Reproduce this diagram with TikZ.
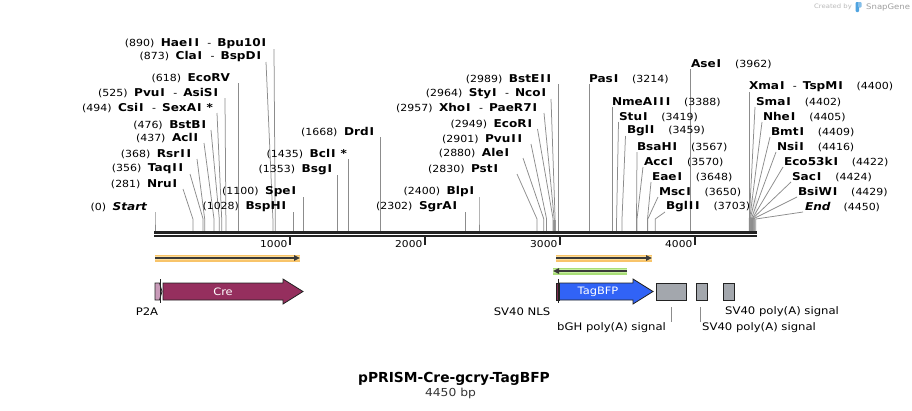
\documentclass[tikz,border=0pt]{standalone}
\usepackage{fontspec}
\setmainfont[FakeStretch=1.12]{DejaVu Sans}
\newfontfamily\titlefont{DejaVu Sans}
\usetikzlibrary{calc,arrows.meta}
\definecolor{cutgray}{HTML}{8C8C8C}
\definecolor{bbone}{HTML}{222222}
\definecolor{orhaloc}{HTML}{F8C46A}
\definecolor{orhaloin}{HTML}{FFDD96}
\definecolor{grhaloc}{HTML}{A9DE78}
\definecolor{grhaloin}{HTML}{C8EFA0}
\definecolor{orfline}{HTML}{3A3A3A}
\definecolor{crec}{HTML}{952F5E}
\definecolor{p2ac}{HTML}{C99BB9}
\definecolor{nlsc}{HTML}{7E2C50}
\definecolor{bfpc}{HTML}{3163F6}
\definecolor{polyac}{HTML}{A3A7AD}
\definecolor{logoc}{HTML}{4FA3E0}
\ExplSyntaxOn
\tl_new:N \l_cut_name_tl
\NewDocumentCommand\cutname{m}{
  \tl_set:Nn \l_cut_name_tl {#1}
  \tl_replace_all:Nnn \l_cut_name_tl {I} {\kern0.9pt\relax I\kern0.9pt\relax}
  {\fontsize{10.8}{12}\selectfont\bfseries \tl_use:N \l_cut_name_tl}
}
\ExplSyntaxOff
\newcommand\cutnamei[1]{{\fontsize{10.8}{12}\selectfont\bfseries\itshape #1}}
\newcommand\cutpos[1]{{\fontsize{9.8}{11}\selectfont(#1)}}
\newcommand\lgap{\hspace{6.5pt}}
\newcommand\rgap{\hspace{13pt}}
\newcommand\dsh{\hspace{7.5pt}{\fontsize{9.8}{11}\selectfont-}\hspace{6pt}}
% #1 id, #2 x, #3 y, #4 text, #5 dx of line start, #6 site x, #7 anchor
\newcommand\cutsite[7]{%
  \node[lbl,anchor=#7] (n#1) at (#2,#3) {#4};
  \coordinate (f#1) at (#6,231);
  \draw[cut] ($(n#1.#7)+(#5,5)$) -- (#6,219) -- (f#1);}
\begin{document}
\begin{tikzpicture}[x=1pt,y=-1pt,
  lbl/.style={inner sep=0pt,outer sep=0pt},
  cut/.style={draw=cutgray,line width=0.75pt},
  bbl/.style={draw=bbone},
  tick/.style={draw=bbone,line width=1.6pt},
  ticklbl/.style={inner sep=0pt,anchor=east,font=\fontsize{9.5}{10}\selectfont},
  orhalo/.style={draw=orhaloc,line width=7pt},
  orhaloi/.style={draw=orhaloin,line width=4.5pt},
  grhalo/.style={draw=grhaloc,line width=7pt},
  grhaloi/.style={draw=grhaloin,line width=4.5pt},
  orf/.style={draw=orfline,line width=1.5pt,-{Triangle[length=6pt,width=5.5pt]}},
  feat/.style={draw=bbone,line width=0.8pt},
  featlbl/.style={inner sep=0pt,text=white,font=\fontsize{10.2}{11}\selectfont},
  flbl/.style={inner sep=0pt,font=\fontsize{10.4}{12}\selectfont},
  lead/.style={draw=cutgray,line width=0.75pt},
  polya/.style={feat,fill=polyac,minimum height=17pt,inner sep=0pt}]
\useasboundingbox (0,0) rectangle (912,410);
\fill[white] (0,0) rectangle (912,410);

% cluster shading
\fill[gray!12] (749,198) rectangle (757,218);
\fill[gray!75] (749,218) rectangle (755,231);
\fill[gray!70] (553,220) rectangle (556,231);

% left labels
\cutsite{890}{267}{44}{\cutpos{890}\lgap\cutname{HaeII}\dsh\cutname{Bpu10I}}{7}{275.2}{east}
\cutsite{873}{262}{57}{\cutpos{873}\lgap\cutname{ClaI}\dsh\cutname{BspDI}}{4}{272.9}{east}
\cutsite{618}{230}{78}{\cutpos{618}\lgap\cutname{EcoRV}}{8.4}{238.4}{east}
\cutsite{525}{219}{93}{\cutpos{525}\lgap\cutname{PvuI}\dsh\cutname{AsiSI}}{6}{225.9}{east}
\cutsite{494}{213}{108}{\cutpos{494}\lgap\cutname{CsiI}\dsh\cutname{SexAI *}}{4}{221.7}{east}
\cutsite{476}{207}{125}{\cutpos{476}\lgap\cutname{BstBI}}{4}{219.3}{east}
\cutsite{437}{199}{138}{\cutpos{437}\lgap\cutname{AclI}}{5}{214}{east}
\cutsite{368}{192}{154}{\cutpos{368}\lgap\cutname{RsrII}}{5}{204.7}{east}
\cutsite{356}{184}{169}{\cutpos{356}\lgap\cutname{TaqII}}{6}{203.1}{east}
\cutsite{281}{178}{184}{\cutpos{281}\lgap\cutname{NruI}}{5}{192.9}{east}
\cutsite{0}{147}{207}{\cutpos{0}\lgap\cutnamei{Start}}{8}{155}{east}
\cutsite{1100}{297}{192}{\cutpos{1100}\lgap\cutname{SpeI}}{6.5}{303.5}{east}
\cutsite{1028}{287}{207}{\cutpos{1028}\lgap\cutname{BspHI}}{6.8}{293.8}{east}
\cutsite{1353}{333}{170}{\cutpos{1353}\lgap\cutname{BsgI}}{4.7}{337.7}{east}
\cutsite{1435}{347}{154}{\cutpos{1435}\lgap\cutname{BclI *}}{1.7}{348.7}{east}
\cutsite{1668}{375}{132}{\cutpos{1668}\lgap\cutname{DrdI}}{5.2}{380.2}{east}
\cutsite{2302}{458}{207}{\cutpos{2302}\lgap\cutname{SgrAI}}{7.8}{465.8}{east}
\cutsite{2400}{475}{192}{\cutpos{2400}\lgap\cutname{BlpI}}{4}{479}{east}
\cutsite{2830}{499}{169}{\cutpos{2830}\lgap\cutname{PstI}}{18}{537}{east}
\cutsite{2880}{510}{153}{\cutpos{2880}\lgap\cutname{AleI}}{13}{543.8}{east}
\cutsite{2901}{523}{139}{\cutpos{2901}\lgap\cutname{PvuII}}{8}{546.6}{east}
\cutsite{2949}{533}{124}{\cutpos{2949}\lgap\cutname{EcoRI}}{4.5}{553.1}{east}
\cutsite{2957}{538}{108}{\cutpos{2957}\lgap\cutname{XhoI}\dsh\cutname{PaeR7I}}{6}{554.2}{east}
\cutsite{2964}{547}{94}{\cutpos{2964}\lgap\cutname{StyI}\dsh\cutname{NcoI}}{4}{555.1}{east}
\cutsite{2989}{552}{79}{\cutpos{2989}\lgap\cutname{BstEII}}{6.5}{558.5}{east}

% right labels
\cutsite{3214}{589}{79}{\cutname{PasI}\rgap\cutpos{3214}}{0.3}{589.3}{west}
\cutsite{3962}{691}{64}{\cutname{AseI}\rgap\cutpos{3962}}{-0.2}{690.8}{west}
\cutsite{3388}{612}{102}{\cutname{NmeAIII}\rgap\cutpos{3388}}{0.4}{612.4}{west}
\cutsite{3419}{619}{117}{\cutname{StuI}\rgap\cutpos{3419}}{-0.5}{616.6}{west}
\cutsite{3459}{627}{131}{\cutname{BglI}\rgap\cutpos{3459}}{-1.5}{622}{west}
\cutsite{3567}{637}{147}{\cutname{BsaHI}\rgap\cutpos{3567}}{0}{636.5}{west}
\cutsite{3570}{644}{162}{\cutname{AccI}\rgap\cutpos{3570}}{-1}{637}{west}
\cutsite{3648}{652}{177}{\cutname{EaeI}\rgap\cutpos{3648}}{-1}{647.5}{west}
\cutsite{3650}{659}{192}{\cutname{MscI}\rgap\cutpos{3650}}{-1}{647.8}{west}
\cutsite{3703}{666}{207}{\cutname{BglII}\rgap\cutpos{3703}}{-1}{655.2}{west}
\cutsite{4400}{749}{87}{\cutname{XmaI}\dsh\cutname{TspMI}\rgap\cutpos{4400}}{0}{749}{west}
\cutsite{4402}{756}{102}{\cutname{SmaI}\rgap\cutpos{4402}}{-1}{749.3}{west}
\cutsite{4405}{763}{117}{\cutname{NheI}\rgap\cutpos{4405}}{-1}{749.7}{west}
\cutsite{4409}{771}{132}{\cutname{BmtI}\rgap\cutpos{4409}}{-1}{750.2}{west}
\cutsite{4416}{777}{147}{\cutname{NsiI}\rgap\cutpos{4416}}{-1}{751.2}{west}
\cutsite{4422}{784}{162}{\cutname{Eco53kI}\rgap\cutpos{4422}}{-1}{752}{west}
\cutsite{4424}{792}{177}{\cutname{SacI}\rgap\cutpos{4424}}{-1}{752.2}{west}
\cutsite{4429}{798}{192}{\cutname{BsiWI}\rgap\cutpos{4429}}{-1}{752.9}{west}
\cutsite{4450}{805}{207}{\cutnamei{End}\rgap\cutpos{4450}}{-2}{755.8}{west}

% backbone
\coordinate (bbL1) at (154,232.5); \coordinate (bbR1) at (757,232.5);
\coordinate (bbL2) at (154,236.3); \coordinate (bbR2) at (757,236.3);
\draw[bbl,line width=3pt] (bbL1) -- (bbR1);
\draw[bbl,line width=2pt] (bbL2) -- (bbR2);
\foreach \k/\xx in {1000/290,2000/425,3000/560,4000/695}{
  \coordinate (t\k) at (\xx,237);
  \draw[tick] (t\k) -- ++(0,8);
  \node[ticklbl] (tl\k) at (\xx-2.5,244.5) {\k};
}

% ORF arrows
\coordinate (o1s) at (155,258); \coordinate (o1e) at (300,258);
\draw[orhalo] (o1s) -- (o1e);
\draw[orhaloi] (o1s) -- (o1e);
\draw[orf] (o1s) -- (o1e);
\coordinate (o2s) at (556,258); \coordinate (o2e) at (652,258);
\draw[orhalo] (o2s) -- (o2e);
\draw[orhaloi] (o2s) -- (o2e);
\draw[orf] (o2s) -- (o2e);
\coordinate (o3s) at (627,271); \coordinate (o3e) at (553,271);
\draw[grhalo] (o3s) -- (o3e);
\draw[grhaloi] (o3s) -- (o3e);
\draw[orf] (o3s) -- (o3e);

% features
\filldraw[feat,fill=p2ac] (155,283) -- (159.5,283) -- (162,291.5) -- (159.5,300) -- (155,300) -- cycle;
\draw[feat,line width=0.7pt] (160,279) -- (160,303);
\filldraw[feat,fill=crec] (163,283) -- (283,283) -- (283,279) -- (303,291.5) -- (283,304) -- (283,300) -- (163,300) -- cycle;
\node[featlbl] (crel) at (223,291.5) {Cre};
\filldraw[feat,fill=nlsc] (556,283) rectangle (559.5,300);
\draw[feat,line width=0.7pt] (558.3,279) -- (558.3,303);
\filldraw[feat,fill=bfpc] (559.5,283) -- (633,283) -- (633,279) -- (653,291.5) -- (633,304) -- (633,300) -- (559.5,300) -- cycle;
\node[featlbl] (bfpl) at (598,291.5) {TagBFP};
\node[polya,minimum width=30pt] (pa1) at (671,291.5) {};
\node[polya,minimum width=11pt] (pa2) at (701.5,291.5) {};
\node[polya,minimum width=11pt] (pa3) at (728.5,291.5) {};

% feature labels
\node[flbl] (lp2a) at (147,312) {P2A};
\node[flbl] (lnls) at (522,312) {SV40 NLS};
\node[flbl,anchor=west] (lsv1) at (725,312) {SV40 poly(A) signal};
\node[flbl,anchor=west] (lbgh) at (557,328) {bGH poly(A) signal};
\node[flbl,anchor=west] (lsv2) at (702,328) {SV40 poly(A) signal};
\draw[lead] ($(pa1.south)+(0,7)$) -- ($(pa1.south)+(0,22)$);
\draw[lead] ($(pa2.south)+(-1.5,7)$) -- ($(pa2.south)+(-1.5,22)$);

% title
\node[inner sep=0pt,font=\titlefont\fontsize{13.8}{15}\selectfont\bfseries] (title) at (454,379) {pPRISM-Cre-gcry-TagBFP};
\node[inner sep=0pt,font=\fontsize{11}{12}\selectfont,text=black!80] (bp) at (450.5,393.5) {4450 bp};

% credit
\node[inner sep=0pt,anchor=east,text=gray!55,font=\fontsize{6.1}{7}\selectfont] (cby) at (852,7) {Created by};
\fill[logoc,rounded corners=1pt] (855.5,2) rectangle (859,12);
\fill[logoc!70,rounded corners=1pt] (858,2) rectangle (861.5,7.5);
\node[inner sep=0pt,anchor=west,text=gray!75,font=\fontsize{7.6}{8}\selectfont] (sgl) at (866,7) {SnapGene};
\end{tikzpicture}
\end{document}
